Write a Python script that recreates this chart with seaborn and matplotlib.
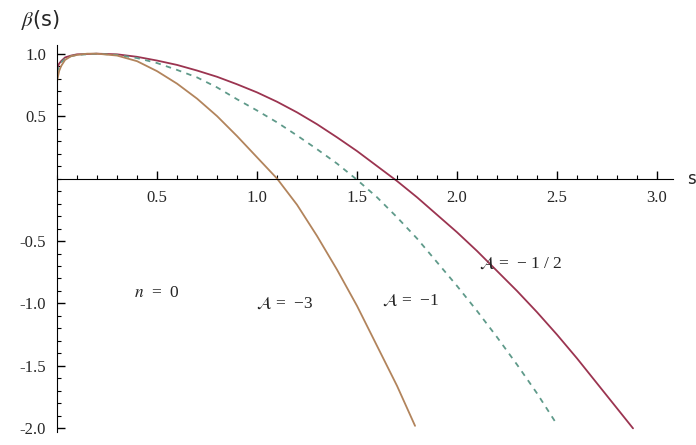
import matplotlib
matplotlib.use('Agg')
import matplotlib.pyplot as plt
import pandas as pd
import seaborn as sns
from matplotlib.ticker import MultipleLocator

# Values
s_half = [0.0, 0.01, 0.02, 0.04, 0.07, 0.1, 0.2, 0.3, 0.4, 0.5, 0.6, 0.7,
          0.8, 0.9, 1.0, 1.1, 1.2, 1.3, 1.4, 1.5, 1.6, 1.7, 1.8, 1.9, 2.0,
          2.1, 2.2, 2.3, 2.4, 2.5, 2.6, 2.7, 2.8, 2.88]
b_half = [0.88, 0.92, 0.94, 0.97, 0.985, 0.995, 1.0, 0.995, 0.975, 0.945,
          0.91, 0.865, 0.815, 0.755, 0.69, 0.615, 0.53, 0.435, 0.33, 0.22,
          0.10, -0.02, -0.15, -0.29, -0.43, -0.58, -0.74, -0.9, -1.07, -1.25,
          -1.44, -1.64, -1.84, -2.0]

s_one = [0.0, 0.01, 0.02, 0.04, 0.07, 0.1, 0.2, 0.3, 0.4, 0.5, 0.6, 0.7,
         0.8, 0.9, 1.0, 1.1, 1.2, 1.3, 1.4, 1.5, 1.6, 1.7, 1.8, 1.9, 2.0,
         2.1, 2.2, 2.3, 2.4, 2.5]
b_one = [0.85, 0.9, 0.93, 0.96, 0.98, 0.99, 1.0, 0.99, 0.965, 0.925, 0.87,
         0.81, 0.73, 0.635, 0.545, 0.45, 0.345, 0.235, 0.12, -0.01, -0.15,
         -0.31, -0.48, -0.67, -0.86, -1.06, -1.27, -1.49, -1.72, -1.97]

s_three = [0.0, 0.01, 0.02, 0.04, 0.07, 0.1, 0.15, 0.2, 0.3, 0.4, 0.5, 0.6,
           0.7, 0.8, 0.9, 1.0, 1.1, 1.2, 1.3, 1.4, 1.5, 1.6, 1.7, 1.79]
b_three = [0.78, 0.86, 0.9, 0.95, 0.98, 0.99, 1.0, 1.0, 0.985, 0.94, 0.86,
           0.76, 0.64, 0.5, 0.34, 0.17, 0.0, -0.21, -0.46, -0.73, -1.02,
           -1.34, -1.66, -1.98]

labels = ['A = -1/2', 'A = -1', 'A = -3']

df = pd.concat([
    pd.DataFrame({'s': s_half, 'beta': b_half, 'A': labels[0]}),
    pd.DataFrame({'s': s_one, 'beta': b_one, 'A': labels[1]}),
    pd.DataFrame({'s': s_three, 'beta': b_three, 'A': labels[2]}),
], ignore_index=True)

sns.set_style('white')
plt.rcParams['axes.unicode_minus'] = False
plt.rcParams['mathtext.fontset'] = 'stix'
plt.rcParams['font.family'] = ['Liberation Serif', 'DejaVu Serif']

fig = plt.figure(figsize=(6.96, 4.45), dpi=100)
ax = fig.add_axes([0.082, 0.029, 0.885, 0.87])

palette = {labels[0]: '#9b3450', labels[1]: '#5f9a8a', labels[2]: '#b2845c'}
ax = sns.lineplot(data=df, x='s', y='beta', hue='A', style='A',
                  palette=palette, sort=False, estimator=None,
                  dashes={labels[0]: '', labels[1]: (3, 3), labels[2]: ''},
                  linewidth=1.3, legend=False, ax=ax)

ax.set_xlim(0, 3.08)
ax.set_ylim(-2.03, 1.07)

# Mathematica-like axes crossing at the origin
for side in ['top', 'right']:
  ax.spines[side].set_visible(False)
ax.spines['left'].set_position(('data', 0))
ax.spines['bottom'].set_position(('data', 0))
ax.spines['left'].set_color('black')
ax.spines['bottom'].set_color('black')

ax.xaxis.set_minor_locator(MultipleLocator(0.1))
ax.yaxis.set_minor_locator(MultipleLocator(0.1))
ax.set_xticks([0.5, 1.0, 1.5, 2.0, 2.5, 3.0])
ax.set_yticks([-2.0, -1.5, -1.0, -0.5, 0.5, 1.0])
ax.tick_params(axis='x', which='both', bottom=True, direction='in',
               color='black')
ax.tick_params(axis='x', which='major', length=6, width=1, labelsize=12,
               pad=8)
ax.tick_params(axis='x', which='minor', length=3, width=0.8)
ax.tick_params(axis='y', which='both', left=True, direction='in',
               color='black')
ax.tick_params(axis='y', which='major', length=6, width=1, labelsize=12,
               pad=8)
ax.tick_params(axis='y', which='minor', length=3, width=0.8)
ax.set_xlabel('')
ax.set_ylabel('')

fig.text(0.03, 0.955, '$\\beta$(s)', fontsize=15, family='DejaVu Sans',
         va='center', ha='left')
ax.text(3.15, 0.0, 's', fontsize=12, family='DejaVu Sans', va='center')

ax.text(2.32, -0.68, '$\\mathcal{A}$ =  \u2212 1 / 2', fontsize=12.5,
        ha='center', va='center')
ax.text(1.77, -0.98, '$\\mathcal{A}$ =  \u22121', fontsize=12.5,
        ha='center', va='center')
ax.text(1.14, -1.0, '$\\mathcal{A}$ =  \u22123', fontsize=12.5,
        ha='center', va='center')
ax.text(0.5, -0.92, '$n$  =  0', fontsize=12.5, ha='center', va='center')

fig.savefig('out.png', dpi=100)
